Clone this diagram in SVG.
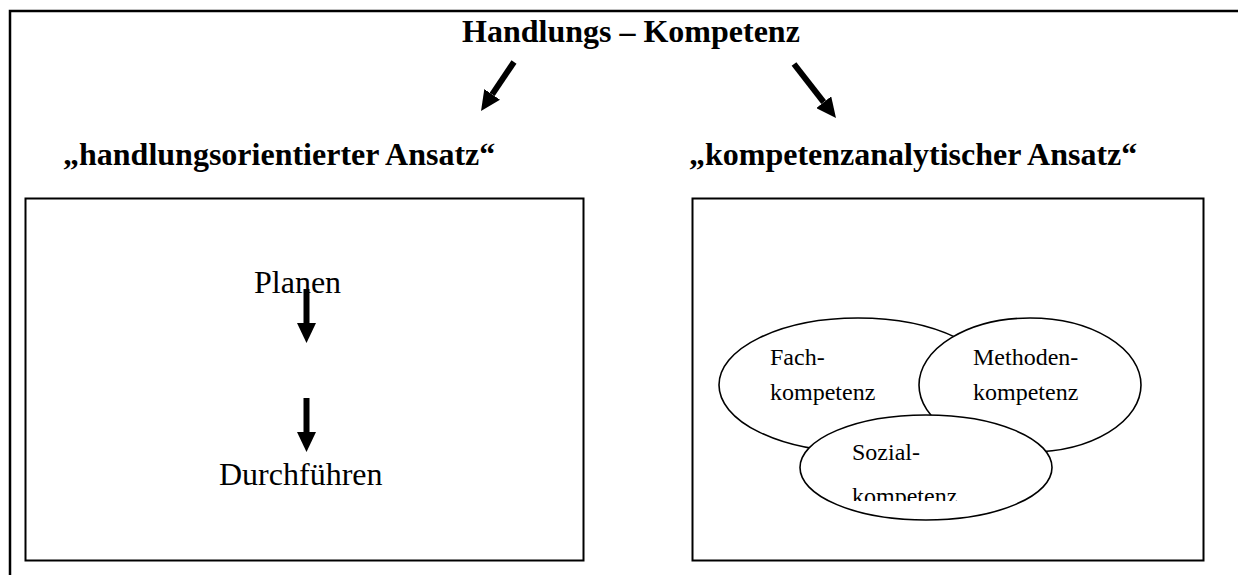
<svg xmlns="http://www.w3.org/2000/svg" width="1238" height="575" viewBox="0 0 1238 575">
<style>
.frame{fill:none;stroke:#000;stroke-width:2.5}
.box{fill:#fff;stroke:#000;stroke-width:2}
.ell{fill:#fff;stroke:#000;stroke-width:1.6}
.head{font-family:"Liberation Serif","Times New Roman",serif;font-weight:bold;font-size:32px;fill:#000}
.big{font-family:"Liberation Serif","Times New Roman",serif;font-size:32px;fill:#000}
.small{font-family:"Liberation Serif","Times New Roman",serif;font-size:24px;fill:#000}
.shaft{stroke:#000;stroke-width:6;fill:none}
</style>
<defs>
<marker id="ah" markerUnits="userSpaceOnUse" viewBox="0 0 20 19" refX="0" refY="9.5" markerWidth="20" markerHeight="19" orient="auto">
<path d="M0,0 L20,9.5 L0,19 Z" fill="#000"/>
</marker>
<clipPath id="clipSoz"><rect x="780" y="420" width="300" height="81"/></clipPath>
</defs>
<rect width="1238" height="575" fill="#fff"/>
<path class="frame" d="M1238,11 H10 V575"/>

<g id="title">
<text class="head" x="462" y="42">Handlungs – Kompetenz</text>
</g>
<g id="ansatz-handlung">
<text class="head" x="63" y="165">„handlungsorientierter Ansatz“</text>
</g>
<g id="ansatz-kompetenz">
<text class="head" x="689" y="165">„kompetenzanalytischer Ansatz“</text>
</g>

<g id="box-left">
<rect class="box" x="25.5" y="198.5" width="558" height="362"/>
</g>
<g id="box-right">
<rect class="box" x="692.5" y="198.5" width="511" height="362"/>
</g>

<g id="planen">
<text class="big" x="254" y="293">Planen</text>
</g>
<g id="durchfuehren">
<text class="big" x="219" y="485">Durchführen</text>
</g>

<g id="fachkompetenz">
<ellipse class="ell" cx="858" cy="385" rx="139" ry="67"/>
<text class="small" x="770" y="365">Fach-</text>
<text class="small" x="770" y="400">kompetenz</text>
</g>
<g id="methodenkompetenz">
<ellipse class="ell" cx="1030" cy="385" rx="111" ry="67"/>
<text class="small" x="973" y="365">Methoden-</text>
<text class="small" x="973" y="400">kompetenz</text>
</g>
<g id="sozialkompetenz">
<ellipse class="ell" cx="926" cy="467.5" rx="126" ry="52.5"/>
<text class="small" x="852" y="460">Sozial-</text>
<text class="small" x="852" y="504" clip-path="url(#clipSoz)">kompetenz</text>
</g>

<g id="connectors">
<line class="shaft" x1="514" y1="62" x2="492.2" y2="94.4" marker-end="url(#ah)"/>
<line class="shaft" x1="794" y1="64" x2="823.7" y2="102.2" marker-end="url(#ah)"/>
<line class="shaft" x1="306.5" y1="289" x2="306.5" y2="323" marker-end="url(#ah)"/>
<line class="shaft" x1="306.5" y1="398" x2="306.5" y2="432" marker-end="url(#ah)"/>
</g>
</svg>
